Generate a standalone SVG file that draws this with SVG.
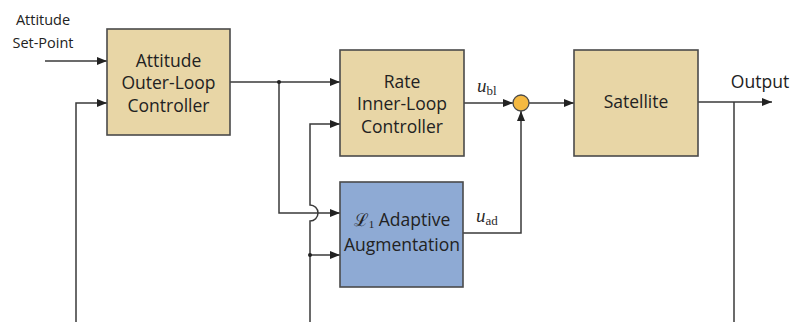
<svg xmlns="http://www.w3.org/2000/svg" width="791" height="322" viewBox="0 0 791 322">
<defs>
<marker id="arr" viewBox="0 0 10 8" refX="10" refY="4" markerWidth="10" markerHeight="8" markerUnits="userSpaceOnUse" orient="auto">
<path d="M0,0 L10,4 L0,8 Z" fill="#222"/>
</marker>
</defs>
<style>
.tan{fill:#E8D6A6;stroke:#4a4a4a;stroke-width:1.6}
.blue{fill:#8EAAD4;stroke:#4a4a4a;stroke-width:1.6}
.ln{fill:none;stroke:#3a3a3a;stroke-width:1.5}
.t{font-family:"Open Sans","Liberation Sans",sans-serif;font-size:17.5px;fill:#222;text-anchor:middle}
.lab{font-family:"Open Sans","Liberation Sans",sans-serif;font-size:14.5px;fill:#222;text-anchor:middle}
.m{font-family:"Liberation Serif","DejaVu Serif",serif;fill:#2a2a2a}
.dot{fill:#222}
</style>
<rect width="791" height="322" fill="#ffffff"/>
<g id="connectors">
<path class="ln" d="M45,61 H107" marker-end="url(#arr)"/>
<path class="ln" d="M76,322 V103 H107" marker-end="url(#arr)"/>
<path class="ln" d="M230,82 H340" marker-end="url(#arr)"/>
<path class="ln" d="M279,82 V213 H340" marker-end="url(#arr)"/>
<path class="ln" d="M310,322 V221 A8,8 0 0 0 310,205 V124 H340" marker-end="url(#arr)"/>
<path class="ln" d="M310,255 H340" marker-end="url(#arr)"/>
<path class="ln" d="M464,103 H513" marker-end="url(#arr)"/>
<path class="ln" d="M463,233 H521 V111" marker-end="url(#arr)"/>
<path class="ln" d="M529,103 H574" marker-end="url(#arr)"/>
<path class="ln" d="M698,102 H772" marker-end="url(#arr)"/>
<path class="ln" d="M734,102 V322"/>
<circle class="dot" cx="279" cy="82" r="2"/>
<circle class="dot" cx="310" cy="255" r="2"/>
</g>
<g id="setpoint-label">
<text class="lab" x="43" y="25">Attitude</text>
<text class="lab" x="43" y="48">Set-Point</text>
</g>
<g id="outer-loop">
<rect class="tan" x="107" y="29" width="123" height="106"/>
<text class="t" x="168.5" y="67">Attitude</text>
<text class="t" x="168.5" y="89">Outer-Loop</text>
<text class="t" x="168.5" y="112">Controller</text>
</g>
<g id="inner-loop">
<rect class="tan" x="340" y="50" width="124" height="106"/>
<text class="t" x="402" y="88">Rate</text>
<text class="t" x="402" y="110">Inner-Loop</text>
<text class="t" x="402" y="133">Controller</text>
</g>
<g id="adaptive">
<rect class="blue" x="340" y="182" width="123" height="105"/>
<text class="t" x="402" y="226"><tspan font-family="'DejaVu Serif',serif" font-size="17.5">ℒ</tspan><tspan font-size="11" dy="2" font-family="'Liberation Serif',serif">1</tspan><tspan dy="-2"> Adaptive</tspan></text>
<text class="t" x="402" y="251">Augmentation</text>
</g>
<g id="sum">
<circle cx="521" cy="103" r="8" fill="#F5B941" stroke="#4a4a4a" stroke-width="1.3"/>
</g>
<g id="satellite">
<rect class="tan" x="574" y="50" width="124" height="106"/>
<text class="t" x="636" y="108">Satellite</text>
</g>
<g id="signal-labels">
<text class="m" x="477" y="92" font-size="19" font-style="italic">u<tspan font-style="normal" font-size="13" dy="3">bl</tspan></text>
<text class="m" x="476" y="222" font-size="19" font-style="italic">u<tspan font-style="normal" font-size="13" dy="3">ad</tspan></text>
<text class="t" x="760" y="88" style="font-size:17.5px">Output</text>
</g>
</svg>
